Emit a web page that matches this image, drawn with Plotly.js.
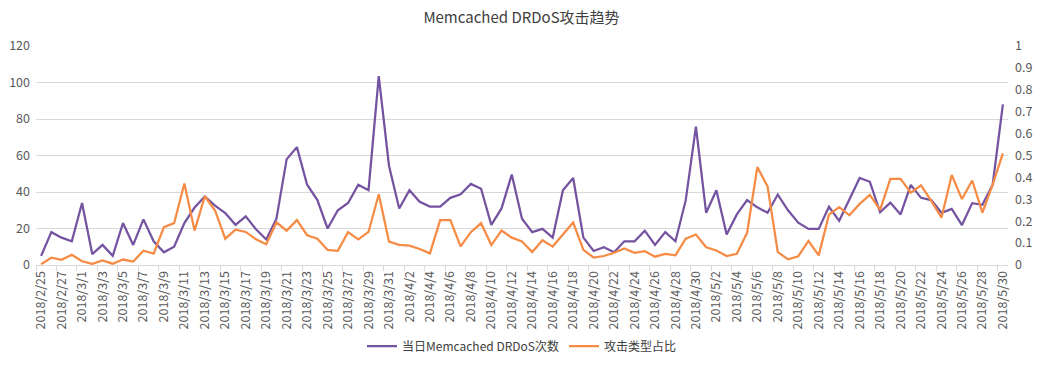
<!DOCTYPE html>
<html>
<head>
<meta charset="utf-8">
<script src="https://cdn.plot.ly/plotly-3.0.1.min.js"></script>
<style>html,body{margin:0;padding:0;background:#fff;}#chart{width:1043px;height:372px;}</style>
</head>
<body>
<div id="chart"></div>
<script>
const dates = [
"2018/2/25","2018/2/26","2018/2/27","2018/2/28",
"2018/3/1","2018/3/2","2018/3/3","2018/3/4","2018/3/5","2018/3/6","2018/3/7","2018/3/8","2018/3/9","2018/3/10",
"2018/3/11","2018/3/12","2018/3/13","2018/3/14","2018/3/15","2018/3/16","2018/3/17","2018/3/18","2018/3/19","2018/3/20",
"2018/3/21","2018/3/22","2018/3/23","2018/3/24","2018/3/25","2018/3/26","2018/3/27","2018/3/28","2018/3/29","2018/3/30","2018/3/31",
"2018/4/1","2018/4/2","2018/4/3","2018/4/4","2018/4/5","2018/4/6","2018/4/7","2018/4/8","2018/4/9","2018/4/10",
"2018/4/11","2018/4/12","2018/4/13","2018/4/14","2018/4/15","2018/4/16","2018/4/17","2018/4/18","2018/4/19","2018/4/20",
"2018/4/21","2018/4/22","2018/4/23","2018/4/24","2018/4/25","2018/4/26","2018/4/27","2018/4/28","2018/4/29","2018/4/30",
"2018/5/1","2018/5/2","2018/5/3","2018/5/4","2018/5/5","2018/5/6","2018/5/7","2018/5/8","2018/5/9","2018/5/10",
"2018/5/11","2018/5/12","2018/5/13","2018/5/14","2018/5/15","2018/5/16","2018/5/17","2018/5/18","2018/5/19","2018/5/20",
"2018/5/21","2018/5/22","2018/5/23","2018/5/24","2018/5/25","2018/5/26","2018/5/27","2018/5/28","2018/5/29","2018/5/30"
];

const dailyCount = [
5, 18, 15, 13,
34, 6, 11, 5, 23, 11, 25, 13, 7, 10,
23, 31.5, 37.5, 32.5, 28.5, 22, 26.7, 19.6, 14, 25.4,
58, 64.6, 44, 35.6, 20, 30, 34, 44, 41, 103.5, 54.4,
31, 41, 34.6, 32, 32, 36.8, 38.8, 44.4, 41.8, 22,
31, 49.6, 25.4, 18, 19.8, 15, 41, 47.7, 15, 7.7,
9.8, 7, 13, 13, 18.8, 11, 18, 13, 35.4, 75.8,
28.6, 41, 16.7, 27.7, 35.6, 31.6, 28.6, 38.6, 30, 23.2,
19.8, 19.8, 31.9, 24.2, 36, 47.7, 45.6, 28.9, 34.2, 27.7,
43.9, 36.8, 35.6, 28.6, 30.7, 21.9, 33.9, 33, 43.9, 88
];

const typeShare = [
0.004, 0.033, 0.024, 0.047,
0.017, 0.005, 0.021, 0.006, 0.025, 0.016, 0.065, 0.052, 0.173, 0.191,
0.372, 0.157, 0.314, 0.249, 0.12, 0.161, 0.151, 0.117, 0.095, 0.195,
0.157, 0.205, 0.136, 0.12, 0.069, 0.065, 0.15, 0.117, 0.151, 0.323, 0.107,
0.092, 0.088, 0.073, 0.053, 0.205, 0.205, 0.085, 0.15, 0.191, 0.091,
0.157, 0.125, 0.107, 0.059, 0.113, 0.084, 0.139, 0.194, 0.069, 0.034,
0.041, 0.056, 0.076, 0.056, 0.063, 0.038, 0.051, 0.044, 0.12, 0.139,
0.081, 0.066, 0.041, 0.051, 0.147, 0.447, 0.359, 0.059, 0.026, 0.04,
0.11, 0.044, 0.23, 0.264, 0.227, 0.279, 0.32, 0.252, 0.393, 0.393,
0.33, 0.364, 0.293, 0.216, 0.411, 0.301, 0.386, 0.239, 0.367, 0.51
];

const seriesNames = ["当日Memcached DRDoS次数", "攻击类型占比"];
const titleText = "Memcached DRDoS攻击趋势";

const FONT = '"Noto Sans CJK SC", "Noto Sans", sans-serif';

const traces = [
  {x: dates, y: dailyCount, name: seriesNames[0], type: 'scatter', mode: 'lines',
   line: {color: '#7453a0', width: 2.25}, yaxis: 'y'},
  {x: dates, y: typeShare, name: seriesNames[1], type: 'scatter', mode: 'lines',
   line: {color: '#f58b45', width: 2.25}, yaxis: 'y2'}
];

const layout = {
  width: 1043, height: 372,
  margin: {l: 36, r: 35, t: 46, b: 98},
  paper_bgcolor: '#fff', plot_bgcolor: '#fff',
  font: {family: FONT, size: 12, color: '#595959'},
  title: {text: titleText, x: 0.5, xanchor: 'center', y: 0.952, yanchor: 'middle',
          font: {family: FONT, size: 15, color: '#404040'}},
  showlegend: true,
  legend: {orientation: 'h', x: 0.5, xanchor: 'center', y: -0.37, yanchor: 'middle',
           font: {family: FONT, size: 12, color: '#404040'}, traceorder: 'normal'},
  xaxis: {type: 'category', range: [-0.5, dates.length - 0.5],
          tickmode: 'linear', dtick: 2, tick0: 0,
          tickangle: -90, ticks: 'outside', ticklen: 5, tickcolor: '#d9d9d9',
          tickson: 'boundaries',
          showline: true, linecolor: '#d9d9d9', linewidth: 1,
          showgrid: false, zeroline: false, automargin: false,
          tickfont: {family: FONT, size: 12.5, color: '#595959'}},
  yaxis: {range: [0, 120], dtick: 20, showgrid: true, gridcolor: '#d9d9d9', gridwidth: 1,
          zeroline: false, showline: false, ticks: '', automargin: false,
          ticklabelstandoff: 5,
          tickfont: {family: FONT, size: 12.5, color: '#595959'}},
  yaxis2: {range: [0, 1], dtick: 0.1, overlaying: 'y', side: 'right', showgrid: false,
           zeroline: false, showline: false, ticks: '', automargin: false,
           ticklabelstandoff: 6,
           tickfont: {family: FONT, size: 12.5, color: '#595959'}}
};

Plotly.newPlot('chart', traces, layout, {displayModeBar: false, staticPlot: true});
</script>
</body>
</html>
